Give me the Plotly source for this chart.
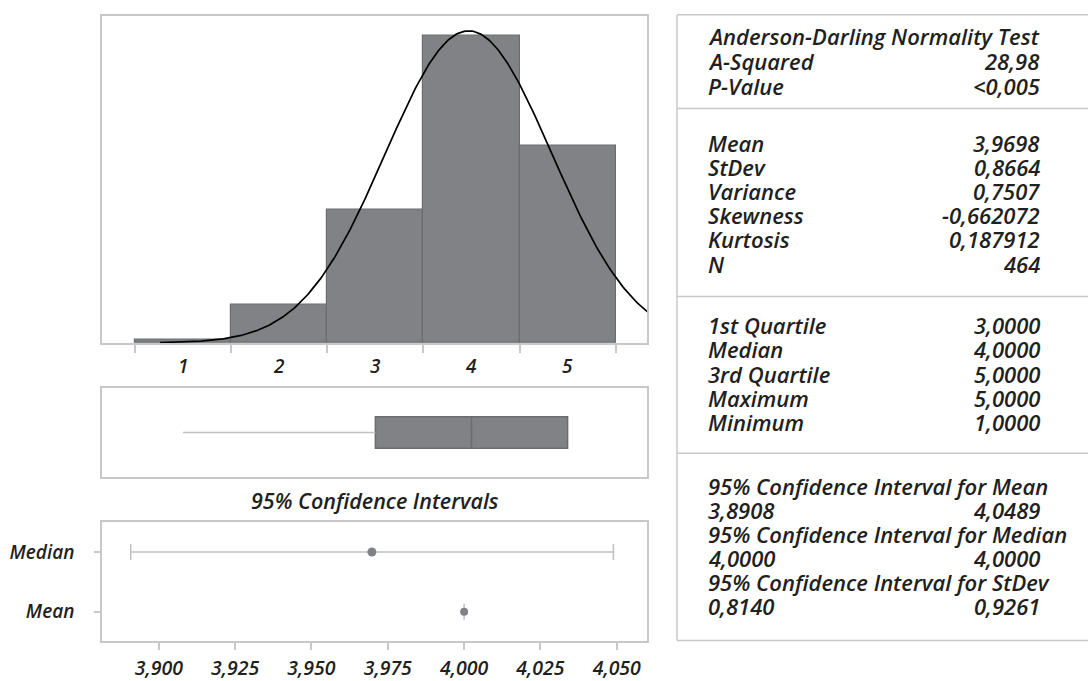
import numpy as np
import plotly.graph_objects as go

# ---------------- data ----------------
bin_centers = [1, 2, 3, 4, 5]
bin_counts = [2, 26, 91, 210, 135]
bin_edges = [0.5, 1.5, 2.5, 3.5, 4.5, 5.5]
bin_labels = ["1", "2", "3", "4", "5"]

stat_mean = 3.9698
stat_sd = 0.8664
stat_n = 464
stat_min, stat_q1, stat_median, stat_q3, stat_max = 1.0, 3.0, 4.0, 5.0, 5.0

ci_rows = ["Median", "Mean"]
ci_center = [3.9698, 4.0000]
ci_low = [3.8908, 4.0000]
ci_high = [4.0489, 4.0000]
ci_ticks = [3.900, 3.925, 3.950, 3.975, 4.000, 4.025, 4.050]
ci_ticktext = ["3,900", "3,925", "3,950", "3,975", "4,000", "4,025", "4,050"]

ad_title = "Anderson-Darling Normality Test"
ad_labels = ["A-Squared", "P-Value"]
ad_values = ["28,98", "<0,005"]
desc_labels = ["Mean", "StDev", "Variance", "Skewness", "Kurtosis", "N"]
desc_values = ["3,9698", "0,8664", "0,7507", "-0,662072", "0,187912", "464"]
quart_labels = ["1st Quartile", "Median", "3rd Quartile", "Maximum", "Minimum"]
quart_values = ["3,0000", "4,0000", "5,0000", "5,0000", "1,0000"]
ci_titles = ["95% Confidence Interval for Mean",
             "95% Confidence Interval for Median",
             "95% Confidence Interval for StDev"]
ci_lo_text = ["3,8908", "4,0000", "0,8140"]
ci_hi_text = ["4,0489", "4,0000", "0,9261"]

# ---------------- style ----------------
W, H = 1088, 681
BAR = "#808285"
BAR_LINE = "#6b6c6f"
FRAME = "#c8c8c8"
WHISK = "#c0c0c0"
TXT = "#231f20"
FONT = "Open Sans"


def py(p):
    return 1 - p / H


def px(p):
    return p / W


fig = go.Figure()

# histogram
fig.add_trace(go.Bar(x=bin_centers, y=bin_counts, width=1.0,
                     marker=dict(color=BAR, line=dict(color=BAR_LINE, width=1.2)),
                     xaxis="x", yaxis="y", showlegend=False, hoverinfo="x+y"))

# fitted normal curve (from mean, stdev, N)
xc = np.linspace(0.76, 5.9, 300)
yc = stat_n * 1.0 / (stat_sd * np.sqrt(2 * np.pi)) * np.exp(-0.5 * ((xc - stat_mean) / stat_sd) ** 2)
fig.add_trace(go.Scatter(x=xc, y=yc, mode="lines", line=dict(color="#000000", width=1.7),
                         xaxis="x", yaxis="y", showlegend=False, hoverinfo="skip"))

# boxplot: whisker + box
fig.add_trace(go.Scatter(x=[stat_min, stat_q1], y=[0, 0], mode="lines",
                         line=dict(color=WHISK, width=1.5),
                         xaxis="x2", yaxis="y2", showlegend=False, hoverinfo="skip"))
fig.add_trace(go.Box(y=[0], q1=[stat_q1], median=[stat_median], q3=[stat_q3],
                     lowerfence=[stat_q1], upperfence=[stat_q3], orientation="h",
                     width=0.355, fillcolor=BAR, line=dict(color=BAR_LINE, width=1.5),
                     xaxis="x2", yaxis="y2", showlegend=False, hoverinfo="skip"))

# confidence intervals
ci_y = [1, 0]
for i in range(len(ci_rows)):
    fig.add_trace(go.Scatter(
        x=[ci_center[i]], y=[ci_y[i]], mode="markers",
        marker=dict(color=BAR, size=9 if i == 0 else 8),
        error_x=dict(type="data", symmetric=False,
                     array=[ci_high[i] - ci_center[i]],
                     arrayminus=[ci_center[i] - ci_low[i]],
                     color=WHISK, thickness=1.5, width=8),
        xaxis="x3", yaxis="y3", showlegend=False, hoverinfo="x"))

axis_common = dict(showline=True, linecolor=FRAME, linewidth=1.5, mirror=True,
                   showgrid=False, zeroline=False)


def fnt(size):
    return dict(family=FONT, size=size, color=TXT, style="italic", weight=600)


xdom = [px(102), px(647)]
fig.update_layout(
    width=W, height=H,
    margin=dict(l=0, r=0, t=0, b=0),
    paper_bgcolor="white", plot_bgcolor="white",
    bargap=0,
    xaxis=dict(domain=xdom, range=[0.156, 5.826], tickvals=bin_edges,
               ticktext=[""] * len(bin_edges), ticks="outside", ticklen=8,
               tickcolor=FRAME, tickwidth=1.5, anchor="y", **axis_common),
    yaxis=dict(domain=[py(348), py(16)], range=[0, 224], showticklabels=False,
               ticks="", anchor="x", **axis_common),
    xaxis2=dict(domain=xdom, range=[0.156, 5.826], showticklabels=False, ticks="",
                anchor="y2", **axis_common),
    yaxis2=dict(domain=[py(484), py(394)], range=[-0.5, 0.5], showticklabels=False,
                ticks="", anchor="x2", **axis_common),
    xaxis3=dict(domain=xdom, range=[3.8814, 4.0599], tickvals=ci_ticks, ticktext=ci_ticktext,
                ticks="outside", ticklen=7, tickcolor=FRAME, tickwidth=1.5,
                tickfont=fnt(19.5), ticklabelstandoff=1,
                anchor="y3", **axis_common),
    yaxis3=dict(domain=[py(651), py(530)], range=[-0.5, 1.5], tickvals=ci_y, ticktext=ci_rows,
                ticks="outside", ticklen=6, tickcolor=FRAME, tickwidth=1.5,
                ticklabelstandoff=16, tickfont=fnt(19), anchor="x3", **axis_common),
)

annotations = []
# histogram bin labels
for c, lab in zip(bin_centers, bin_labels):
    annotations.append(dict(x=c, y=py(371), xref="x", yref="paper", text=lab, showarrow=False,
                            xanchor="center", yanchor="middle", font=fnt(19)))

annotations.append(dict(x=px(375), y=py(508), xref="paper", yref="paper",
                        text="95% Confidence Intervals", showarrow=False,
                        xanchor="center", yanchor="middle", font=fnt(21.5)))

pfont = fnt(22)
LX, RX = px(706), px(1042)


def left(y, t):
    annotations.append(dict(x=LX, y=py(y), xref="paper", yref="paper", text=t, showarrow=False,
                            xanchor="left", yanchor="middle", font=pfont))


def right(y, t):
    annotations.append(dict(x=RX, y=py(y), xref="paper", yref="paper", text=t, showarrow=False,
                            xanchor="right", yanchor="middle", font=pfont))


left(37, ad_title)
for i, (l, v) in enumerate(zip(ad_labels, ad_values)):
    left(62 + 25 * i, l)
    right(62 + 25 * i, v)
for i, (l, v) in enumerate(zip(desc_labels, desc_values)):
    left(145 + 24.5 * i, l)
    right(145 + 24.5 * i, v)
for i, (l, v) in enumerate(zip(quart_labels, quart_values)):
    left(330 + 24.6 * i, l)
    right(330 + 24.6 * i, v)
for i in range(len(ci_titles)):
    y0 = 493 + 49 * i
    left(y0, ci_titles[i])
    left(y0 + 24.5, ci_lo_text[i])
    right(y0 + 24.5, ci_hi_text[i])

fig.update_layout(annotations=annotations)

# right panel frame and dividers
shapes = []
lc = dict(color=FRAME, width=1.5)
shapes.append(dict(type="line", xref="paper", yref="paper", x0=px(677), x1=px(677),
                   y0=py(15), y1=py(650), line=lc))
for yy in [15, 110, 301, 460, 650]:
    shapes.append(dict(type="line", xref="paper", yref="paper", x0=px(677), x1=1.0,
                       y0=py(yy), y1=py(yy), line=lc))
fig.update_layout(shapes=shapes)

fig.write_html("out.html", config={"displayModeBar": False},
               post_script="document.body.style.margin='0px';")
